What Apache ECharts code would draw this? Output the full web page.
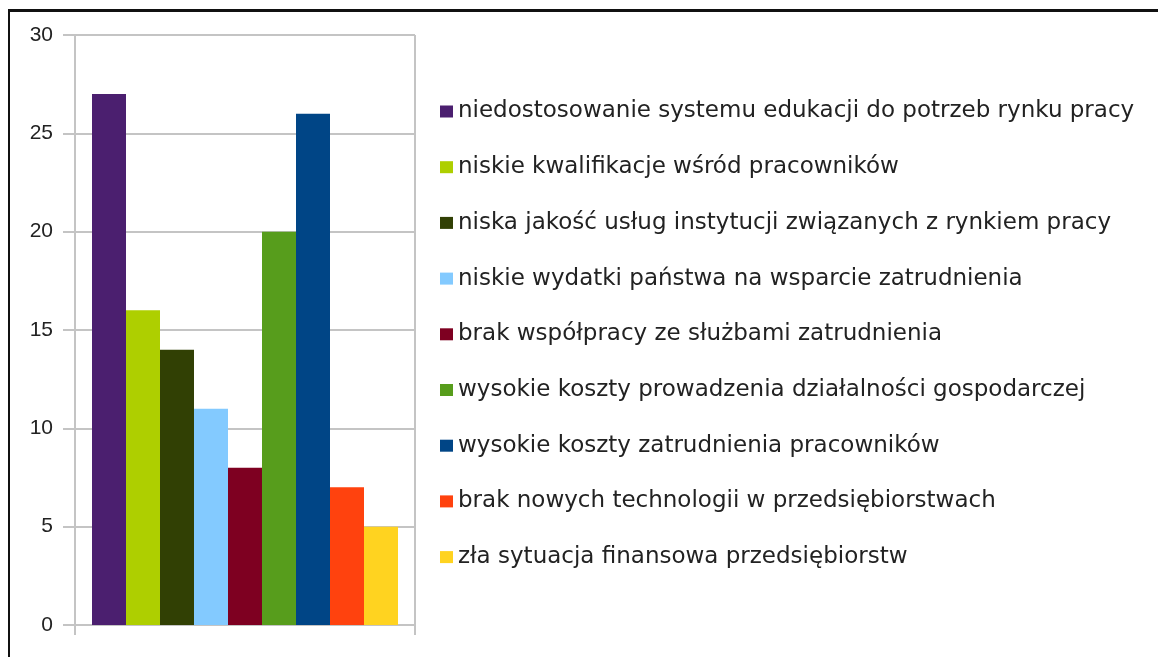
<!DOCTYPE html>
<html>
<head>
<meta charset="utf-8">
<script src="https://cdn.jsdelivr.net/npm/echarts@6/dist/echarts.min.js"></script>
<style>html,body{margin:0;padding:0;background:#fff}#c{width:1158px;height:657px}</style>
</head>
<body>
<div id="c"></div>
<script>
var categories = [''];
var seriesNames = [
  'niedostosowanie systemu edukacji do potrzeb rynku pracy',
  'niskie kwalifikacje wśród pracowników',
  'niska jakość usług instytucji związanych z rynkiem pracy',
  'niskie wydatki państwa na wsparcie zatrudnienia',
  'brak współpracy ze służbami zatrudnienia',
  'wysokie koszty prowadzenia działalności gospodarczej',
  'wysokie koszty zatrudnienia pracowników',
  'brak nowych technologii w przedsiębiorstwach',
  'zła sytuacja finansowa przedsiębiorstw'
];
var seriesValues = [27, 16, 14, 11, 8, 20, 26, 7, 5];
var colors = ['#4b1f6f', '#aecf00', '#314004', '#83caff', '#7e0021', '#579d1c', '#004586', '#ff420e', '#ffd320'];
var yTicks = { min: 0, max: 30, interval: 5 };

var chart = echarts.init(document.getElementById('c'), null, { renderer: 'canvas' });
var gridColor = '#c4c4c4';
var series = seriesNames.map(function (n, i) {
  return {
    name: n,
    type: 'bar',
    data: [seriesValues[i]],
    itemStyle: { color: colors[i] },
    barGap: '0%',
    barCategoryGap: '10%',
    animation: false
  };
});
chart.setOption({
  animation: false,
  color: colors,
  grid: { left: 75, right: 743, top: 35, bottom: 32, containLabel: false },
  xAxis: {
    type: 'category',
    data: categories,
    axisLine: { show: true, lineStyle: { color: gridColor, width: 2 } },
    axisTick: { show: true, length: 10, lineStyle: { color: gridColor, width: 2 } },
    axisLabel: { show: false },
    splitLine: { show: true, lineStyle: { color: gridColor, width: 2 } }
  },
  yAxis: {
    type: 'value',
    min: yTicks.min,
    max: yTicks.max,
    interval: yTicks.interval,
    axisLine: { show: true, lineStyle: { color: gridColor, width: 2 } },
    axisTick: { show: true, length: 12, lineStyle: { color: gridColor, width: 2 } },
    axisLabel: { color: '#222', fontFamily: 'Liberation Sans', fontSize: 21, margin: 22 },
    splitLine: { show: true, lineStyle: { color: gridColor, width: 2 } }
  },
  legend: {
    orient: 'vertical',
    left: 440,
    top: 100,
    padding: 0,
    icon: 'rect',
    itemWidth: 13,
    itemHeight: 12,
    itemGap: 32.7,
    textStyle: { color: '#222', fontFamily: 'DejaVu Sans', fontSize: 23 },
    data: seriesNames
  },
  graphic: [
    { type: 'rect', shape: { x: 8, y: 9, width: 1150, height: 3 }, style: { fill: '#111' } },
    { type: 'rect', shape: { x: 8, y: 9, width: 2, height: 648 }, style: { fill: '#111' } }
  ],
  series: series
});
</script>
</body>
</html>
